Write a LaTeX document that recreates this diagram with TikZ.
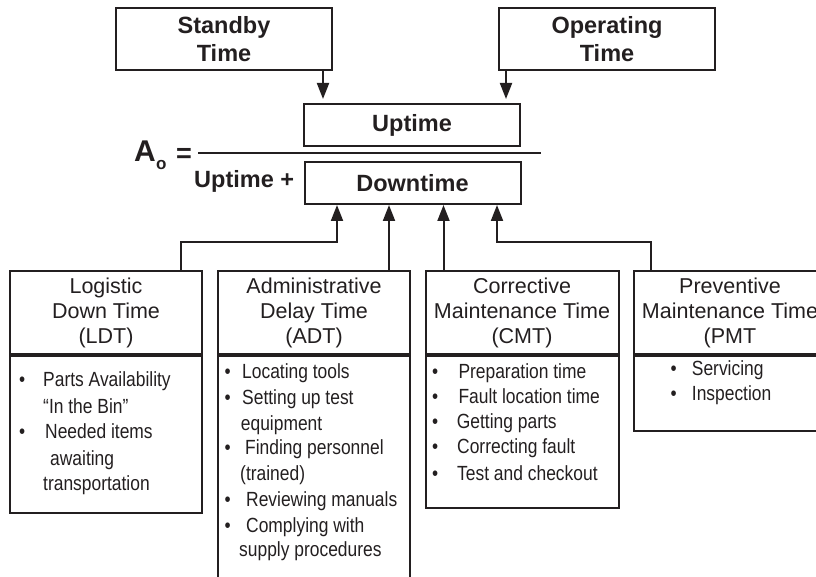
\documentclass[tikz,border=0pt]{standalone}
\usepackage{fontspec}
\setmainfont{Liberation Sans}
\newfontfamily\narrowfont[FakeStretch=0.85]{Liberation Sans}
\usetikzlibrary{arrows.meta}
\definecolor{ink}{HTML}{231F20}
\tikzset{
  titlebox/.style={draw=ink,line width=2pt,minimum width=216pt,minimum height=62pt,inner sep=0pt,align=center,text=ink,font=\fontsize{23.5}{28.5}\selectfont\bfseries},
  sumbox/.style={titlebox,minimum height=42pt},
  headbox/.style={draw=ink,line width=2pt,minimum width=192pt,minimum height=83pt,inner sep=0pt,align=center,text=ink,font=\fontsize{21.5}{25}\selectfont},
  listbox/.style={draw=ink,line width=2pt,minimum width=192pt,inner sep=0pt,anchor=north},
  item/.style={anchor=base west,inner sep=0pt,text=ink,font=\fontsize{20.5}{24}\selectfont\narrowfont},
  conn/.style={draw=ink,line width=2pt,-{Triangle[length=16pt,width=12pt]}},
}
\begin{document}
\begin{tikzpicture}[x=1pt,y=-1pt]
\path[use as bounding box] (0,0) rectangle (816,577);
\clip (0,0) rectangle (816,577);

\node[titlebox] (standby) at (224,39) {Standby\\Time};
\node[titlebox] (operating) at (607,39) {Operating\\Time};
\node[sumbox] (uptime) at (412,125) {Uptime};
\node[sumbox] (downtime) at (412.5,183) {Downtime};

\node[anchor=base west,inner sep=0pt,text=ink,font=\fontsize{30}{30}\selectfont\bfseries] (alabel) at (134,162) {A};
\node[anchor=base west,inner sep=0pt,text=ink,font=\fontsize{17}{17}\selectfont\bfseries] (asub) at (156,170) {o};
\node[anchor=base west,inner sep=0pt,text=ink,font=\fontsize{27}{27}\selectfont\bfseries] (equal) at (176,163) {=};
\node[anchor=base west,inner sep=0pt,text=ink,font=\fontsize{23.5}{28.5}\selectfont\bfseries] (plus) at (194,188) {Uptime +};
\draw[ink,line width=2pt] (198,152.7) -- (541,152.7);

\node[headbox] (ldt) at (106,312.5) {Logistic\\Down Time\\(LDT)};
\node[headbox] (adt) at (314,312.5) {Administrative\\Delay Time\\(ADT)};
\node[headbox,minimum width=193pt] (cmt) at (522,312.5) {Corrective\\Maintenance Time\\(CMT)};
\node[headbox] (pmt) at (730,312.5) {Preventive\\Maintenance Time\\(PMT};

\node[listbox,minimum height=156.5pt] (ldtlist) at (ldt.south) {};
\node[listbox,minimum height=260pt] (adtlist) at (adt.south) {};
\node[listbox,minimum width=193pt,minimum height=152pt] (cmtlist) at (cmt.south) {};
\node[listbox,minimum height=75pt] (pmtlist) at (pmt.south) {};

\draw[conn,shorten >=4pt] ([xshift=-10pt]standby.south east) -- ([xshift=-10pt]standby.south east |- uptime.north);
\draw[conn,shorten >=4pt] ([xshift=8pt]operating.south west) -- ([xshift=8pt]operating.south west |- uptime.north);
\draw[conn] ([xshift=-22pt]ldt.north east) -- ++(0,-28) -| ([xshift=33.5pt]downtime.south west);
\draw[conn] ([xshift=-22pt]adt.north east) -- ([xshift=-22pt]adt.north east |- downtime.south);
\draw[conn] ([xshift=19pt]cmt.north west) -- ([xshift=19pt]cmt.north west |- downtime.south);
\draw[conn] ([xshift=18pt]pmt.north west) -- ++(0,-28) -| ([xshift=-24.5pt]downtime.south east);

\foreach \py [count=\i] in {386.7,438}
  \node[item] (ldtdot\i) at (19,\py) {•};
\foreach \px/\py/\txt [count=\i] in {43/386.7/Parts Availability,43/413/“In the Bin”,45/438/Needed items,50/465/awaiting,43/490/transportation}
  \node[item] (ldtline\i) at (\px,\py) {\txt};

\foreach \py [count=\i] in {378,404,454,506.7,532.7}
  \node[item] (adtdot\i) at (224.5,\py) {•};
\foreach \px/\py/\txt [count=\i] in {242/378/Locating tools,242/404/Setting up test,240.7/430/equipment,245/454/Finding personnel,240/480/(trained),246/506.7/Reviewing manuals,246/532.7/Complying with,239/556.7/supply procedures}
  \node[item] (adtline\i) at (\px,\py) {\txt};

\foreach \py [count=\i] in {378,403,428,453,480}
  \node[item] (cmtdot\i) at (432,\py) {•};
\foreach \px/\py/\txt [count=\i] in {458.3/378/Preparation time,458.3/403/Fault location time,456.7/428/Getting parts,457/453/Correcting fault,457/480/Test and checkout}
  \node[item] (cmtline\i) at (\px,\py) {\txt};

\foreach \py [count=\i] in {375,400}
  \node[item] (pmtdot\i) at (670.5,\py) {•};
\foreach \px/\py/\txt [count=\i] in {691.7/375/Servicing,691.7/400/Inspection}
  \node[item] (pmtline\i) at (\px,\py) {\txt};
\end{tikzpicture}
\end{document}
